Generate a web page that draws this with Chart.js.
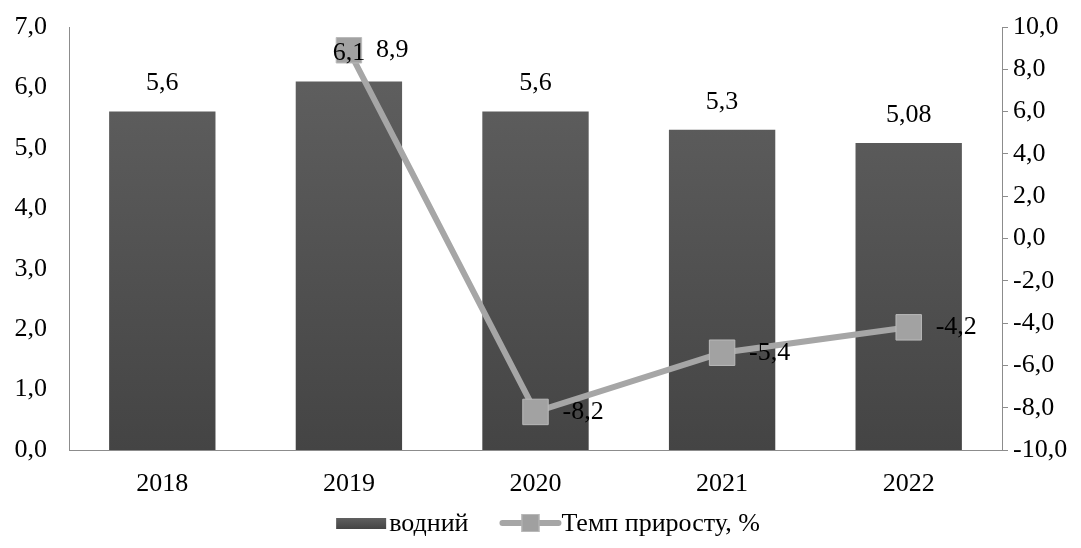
<!DOCTYPE html>
<html>
<head>
<meta charset="utf-8">
<script src="https://cdn.jsdelivr.net/npm/chart.js@4"></script>
<style>
  html, body { margin: 0; padding: 0; background: #fff; }
  #wrap { width: 1081px; height: 548px; }
</style>
</head>
<body>
<div id="wrap"><canvas id="c" width="1081" height="548"></canvas></div>
<script>
const years = ['2018', '2019', '2020', '2021', '2022'];
const waterValues = [5.6, 6.1, 5.6, 5.3, 5.08];
const waterLabels = ['5,6', '6,1', '5,6', '5,3', '5,08'];
const growthValues = [null, 8.9, -8.2, -5.4, -4.2];
const growthLabels = [null, '8,9', '-8,2', '-5,4', '-4,2'];
const legendNames = ['водний', 'Темп приросту, %'];

const FONT = 'Liberation Serif, Times New Roman, serif';
const FSIZE = 26;
const AXIS_GREY = '#8c8c8c';
const LINE_GREY = '#a6a6a6';

function fmt(v) { return v.toFixed(1).replace('.', ','); }

function barGradient(ctx, area) {
  const g = ctx.createLinearGradient(0, area.top, 0, area.bottom);
  g.addColorStop(0, '#626262');
  g.addColorStop(1, '#444444');
  return g;
}

// fixed axis sizes, no extra label overhang padding
function fixSize(w, h) {
  return s => {
    if (w != null) s.width = w;
    if (h != null) s.height = h;
    s.paddingTop = 0; s.paddingBottom = 0;
    s.paddingLeft = 0; s.paddingRight = 0;
  };
}

// value labels over bars and beside line points
const valueLabels = {
  id: 'valueLabels',
  afterDatasetsDraw(chart) {
    const ctx = chart.ctx;
    ctx.save();
    ctx.font = FSIZE + 'px ' + FONT;
    ctx.fillStyle = '#000';
    ctx.textBaseline = 'middle';
    const bars = chart.getDatasetMeta(0).data;
    ctx.textAlign = 'center';
    bars.forEach((b, i) => ctx.fillText(waterLabels[i], b.x, b.y - 28));
    const pts = chart.getDatasetMeta(1).data;
    ctx.textAlign = 'left';
    pts.forEach((p, i) => {
      if (growthLabels[i] == null) return;
      ctx.fillText(growthLabels[i], p.x + 27, p.y);
    });
    ctx.restore();
  }
};

// legend row at the bottom
const bottomLegend = {
  id: 'bottomLegend',
  afterDraw(chart) {
    const ctx = chart.ctx;
    ctx.save();
    ctx.font = FSIZE + 'px ' + FONT;
    const w1 = ctx.measureText(legendNames[0]).width;
    const w2 = ctx.measureText(legendNames[1]).width;
    const total = 50 + 3 + w1 + 31 + 62 + w2;
    let x = 548 - total / 2;
    const y = 523;
    ctx.fillStyle = barGradient(ctx, {top: y - 6, bottom: y + 6});
    ctx.fillRect(x, y - 5, 50, 11);
    x += 53;
    ctx.fillStyle = '#000';
    ctx.textBaseline = 'middle';
    ctx.textAlign = 'left';
    ctx.fillText(legendNames[0], x, y + 1);
    x += w1 + 31;
    ctx.strokeStyle = LINE_GREY;
    ctx.lineWidth = 6;
    ctx.lineCap = 'round';
    ctx.beginPath();
    ctx.moveTo(x + 3, y);
    ctx.lineTo(x + 59, y);
    ctx.stroke();
    ctx.fillStyle = '#a0a0a0';
    ctx.fillRect(x + 22, y - 9, 18, 18);
    ctx.strokeStyle = '#b8b8b8';
    ctx.lineWidth = 1;
    ctx.strokeRect(x + 22.5, y - 8.5, 17, 17);
    x += 62;
    ctx.fillStyle = '#000';
    ctx.fillText(legendNames[1], x, y + 1);
    ctx.restore();
  }
};

new Chart(document.getElementById('c'), {
  data: {
    labels: years,
    datasets: [
      {
        type: 'bar',
        label: legendNames[0],
        data: waterValues,
        yAxisID: 'y',
        order: 2,
        backgroundColor(c) {
          const a = c.chart.chartArea;
          if (!a) return '#555';
          return barGradient(c.chart.ctx, a);
        },
        borderWidth: 0,
        categoryPercentage: 1,
        barPercentage: 0.57
      },
      {
        type: 'line',
        label: legendNames[1],
        data: growthValues,
        yAxisID: 'y1',
        order: 1,
        borderColor: LINE_GREY,
        borderWidth: 6,
        pointStyle: 'rect',
        pointRadius: 18,
        pointBackgroundColor: '#a2a2a2',
        pointBorderColor: '#bababa',
        pointBorderWidth: 1,
        tension: 0,
        spanGaps: false
      }
    ]
  },
  options: {
    responsive: false,
    animation: false,
    events: [],
    layout: { padding: { top: 27, bottom: 38, left: 0, right: 0 } },
    plugins: { legend: { display: false }, tooltip: { enabled: false } },
    scales: {
      x: {
        grid: { display: false, drawTicks: false },
        border: { display: true, color: AXIS_GREY, width: 1 },
        ticks: { color: '#000', font: { family: FONT, size: FSIZE }, padding: 19 },
        afterFit: fixSize(null, 60)
      },
      y: {
        position: 'left',
        min: 0, max: 7,
        grid: { display: false, drawTicks: false },
        border: { display: true, color: AXIS_GREY, width: 1 },
        ticks: { stepSize: 1, color: '#000', font: { family: FONT, size: FSIZE }, padding: 22, callback: v => fmt(v) },
        afterFit: fixSize(69, null)
      },
      y1: {
        position: 'right',
        min: -10, max: 10,
        grid: { drawOnChartArea: false, drawTicks: true, tickLength: 6, color: AXIS_GREY },
        border: { display: true, color: AXIS_GREY, width: 1 },
        ticks: { stepSize: 2, color: '#000', font: { family: FONT, size: FSIZE }, padding: 5, callback: v => fmt(v) },
        afterFit: fixSize(79, null)
      }
    }
  },
  plugins: [valueLabels, bottomLegend]
});
</script>
</body>
</html>
